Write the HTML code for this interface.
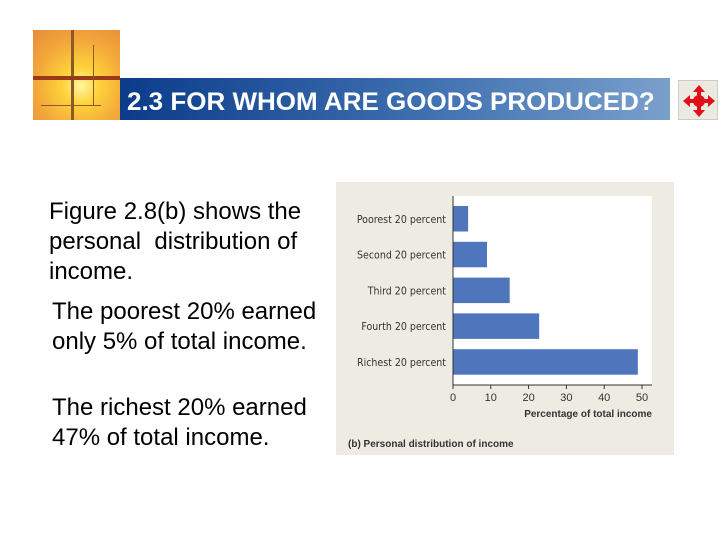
<!DOCTYPE html>
<html><head><meta charset="utf-8"><style>
body{margin:0;width:720px;height:540px;background:#fff;position:relative;overflow:hidden;font-family:"Liberation Sans",Arial,sans-serif}
.a{position:absolute}
.t{font-size:24px;line-height:30px;color:#000;white-space:nowrap}
</style></head><body>
<div class="a" style="left:33px;top:30px;width:87px;height:90px;background:radial-gradient(circle at 55% 62%,#fff6a0 0,#ffd23a 25%,#f3a93a 60%,#e88a3a 100%)">
<div class="a" style="left:38px;top:0;width:3px;height:90px;background:#8a5a2a"></div>
<div class="a" style="left:0;top:46px;width:87px;height:4px;background:#9a3a1a"></div>
<div class="a" style="left:8px;top:75px;width:60px;height:1px;background:#8a5a2a"></div>
<div class="a" style="left:60px;top:15px;width:1px;height:60px;background:#8a5a2a"></div>
</div>
<div class="a" style="left:120px;top:78px;width:550px;height:42px;background:linear-gradient(90deg,#0c3c8a,#3e6fb0 55%,#7aa0cc)">
<div class="a" style="left:7px;top:10px;color:#fff;font-weight:bold;font-size:25px;line-height:29px;white-space:nowrap;transform:scaleX(1.04);transform-origin:0 0">2.3 FOR WHOM ARE GOODS PRODUCED?</div>
</div>
<div class="a" style="left:678px;top:80px;width:40px;height:40px;background:#ece9e0;border:1px solid #ccc;box-sizing:border-box">
<svg width="40" height="40"><g fill="#e0101a"><polygon points="20,4 26,11 22,11 22,29 26,29 20,36 14,29 18,29 18,11 14,11"/><polygon points="4,20 11,14 11,18 29,18 29,14 36,20 29,26 29,22 11,22 11,26"/><circle cx="20" cy="20" r="6"/></g></svg>
</div>
<div class="a t" style="left:49px;top:197px">Figure 2.8(b) shows the<br>personal&nbsp; distribution of<br>income.</div>
<div class="a t" style="left:52px;top:297px">The poorest 20% earned<br>only 5% of total income.</div>
<div class="a t" style="left:52px;top:393px">The richest 20% earned<br>47% of total income.</div>
<svg class="a" style="left:0;top:0" width="720" height="540" id="chart"></svg>
<script>
const categories=["Poorest 20 percent","Second 20 percent","Third 20 percent","Fourth 20 percent","Richest 20 percent"];
const values=[4,9,15,22.8,48.9];
const ticks=[0,10,20,30,40,50];
const NS="http://www.w3.org/2000/svg";
const svg=document.getElementById('chart');
const x0=453,xs=(642-453)/50,yTop=206,pitch=35.8,bh=25.5;
function X(v){return x0+v*xs}
function Y(i){return yTop+i*pitch}
function mk(tag,attrs,parent){const e=document.createElementNS(NS,tag);for(const k in attrs)e.setAttribute(k,attrs[k]);(parent||svg).appendChild(e);return e}
let e=mk('rect',{x:336,y:182,width:338,height:273,fill:'#eeebe2'});


e=mk('rect',{x:453,y:196,width:199,height:189,fill:'#fff'});


categories.forEach((c,i)=>{
 const r=mk('rect',{x:X(0),y:Y(i),width:X(values[i])-X(0),height:bh,fill:'#4f76bd'});
 
 
 const t=mk('text',{x:446,y:Y(i)+bh/2+4,'text-anchor':'end','font-size':'10.5','font-family':'DejaVu Sans Condensed,Liberation Sans,sans-serif',fill:'#333'});
 t.textContent=c;
 
 
});
e=mk('line',{x1:453,y1:196,x2:453,y2:385,stroke:'#333','stroke-width':1});


e=mk('line',{x1:453,y1:385,x2:652,y2:385,stroke:'#333','stroke-width':1});


ticks.forEach(v=>{
 mk('line',{x1:X(v),y1:385,x2:X(v),y2:389,stroke:'#333'});
 const t=mk('text',{x:X(v),y:401,'text-anchor':'middle','font-size':'11','font-family':'Liberation Sans,sans-serif',fill:'#333'});
 t.textContent=v;
 
 
});
e=mk('text',{x:652,y:417,'text-anchor':'end','font-size':'10','font-weight':'bold','font-family':'Liberation Sans,sans-serif',fill:'#333'});
e.textContent='Percentage of total income';


e=mk('text',{x:348,y:447,'font-size':'10','font-weight':'bold','font-family':'Liberation Sans,sans-serif',fill:'#333'});
e.textContent='(b) Personal distribution of income';


</script>
</body></html>
